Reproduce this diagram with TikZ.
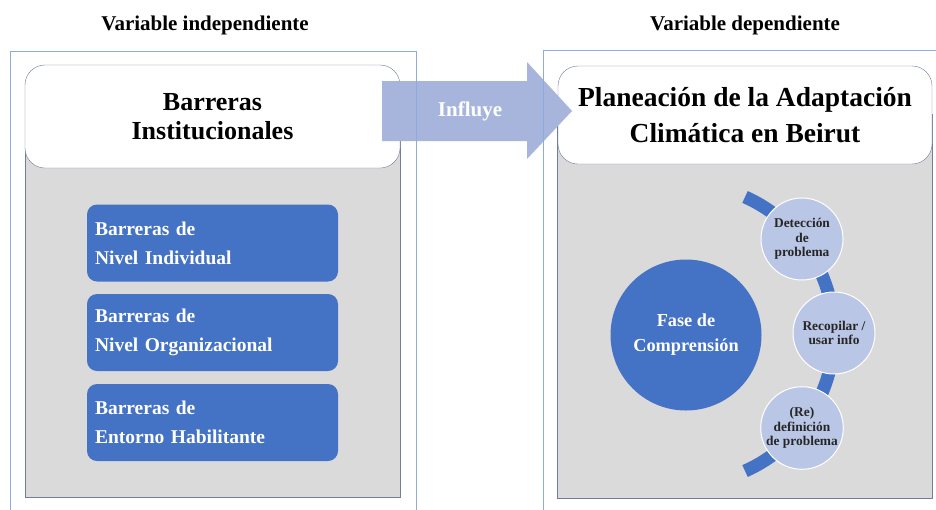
\documentclass[tikz,border=0pt]{standalone}
\usepackage{fontspec}
\setmainfont{Liberation Serif}
\definecolor{azul}{HTML}{4472C4}
\definecolor{gris}{HTML}{DBDADB}
\definecolor{celeste}{HTML}{BAC6E5}
\definecolor{flecha}{HTML}{A7B5DC}
\definecolor{marco}{HTML}{8FAADC}
\definecolor{borde}{HTML}{6F7E99}
\begin{document}
\begin{tikzpicture}[x=1pt,y=-1pt,
  titulo/.style={font=\fontsize{21}{25}\selectfont\bfseries},
  encabezado/.style={draw=borde,fill=white,rounded corners=20pt,align=center,
    inner sep=0pt,font=\fontsize{26}{29}\selectfont\bfseries},
  barrera/.style={fill=azul,rounded corners=10pt,text width=235pt,align=left,
    inner xsep=8pt,minimum height=77pt,text=white,
    font=\fontsize{19.5}{29}\selectfont\bfseries},
  paso/.style={circle,fill=celeste,draw=white,line width=1pt,minimum size=82pt,
    inner sep=0pt,align=center,text=black!85,
    font=\fontsize{13.4}{14.5}\selectfont\bfseries}]
  \useasboundingbox (0,0) rectangle (936,509);
  \clip (0,0) rectangle (936,509);
  \fill[white] (0,0) rectangle (936,509);

  % Titles
  \node[titulo] (tindep) at (205,25) {Variable independiente};
  \node[titulo] (tdep) at (745,25) {Variable dependiente};

  % Independent variable
  \draw[borde,fill=gris] (25,116) rectangle (400,497);
  \node[encabezado,minimum width=375pt,minimum height=103pt] (inst) at (212.5,116.5)
    {Barreras\\Institucionales};
  \node[barrera] (indiv) at (212.5,243) {Barreras de\\Nivel Individual};
  \node[barrera] (organ) at (212.5,332.5) {Barreras de\\Nivel Organizacional};
  \node[barrera] (entor) at (212.5,422.5) {Barreras de\\Entorno Habilitante};

  % Dependent variable
  \draw[borde,fill=gris] (557,114) rectangle (932,498);
  \node[encabezado,minimum width=374pt,minimum height=98pt,
    font=\fontsize{27.5}{36}\selectfont\bfseries] (plan) at (745,115)
    {Planeación de la Adaptación\\Climática en Beirut};

  % Comprehension phase
  \node[circle,fill=azul,minimum size=151pt,inner sep=0pt,align=center,text=white,
    font=\fontsize{18.3}{25}\selectfont\bfseries] (fase) at (686,335)
    {Fase de\\Comprensión};
  \draw[azul,line width=13pt] (684,334) ++(66:150) arc (66:-66:150);
  \node[paso] (detec) at (802,239) {Detección\\de\\problema};
  \node[paso] (recop) at (834,333) {Recopilar /\\usar info};
  \node[paso] (redef) at (802,428) {(Re)\\definición\\de problema};

  % Influence arrow
  \fill[flecha] (382,81) -- (527,81) -- (527,62) -- (572,111) -- (527,159)
    -- (527,141) -- (382,141) -- cycle;
  \node[text=white,font=\fontsize{21}{25}\selectfont\bfseries] (influye) at (470,111) {Influye};

  % Frames
  \draw[marco] (10,51) rectangle (416,530);
  \draw[marco] (543,50) rectangle (960,530);
\end{tikzpicture}
\end{document}
